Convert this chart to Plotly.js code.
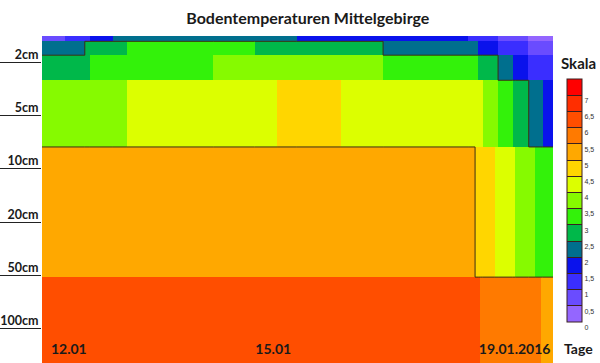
<!DOCTYPE html>
<html><head><meta charset="utf-8">
<script src="https://cdn.plot.ly/plotly-3.0.1.min.js"></script>
<style>html,body{margin:0;padding:0;background:#fff}#chart{width:600px;height:363px}</style>
</head><body><div id="chart"></div>
<script>
// depth axis (index scale, one step per labelled depth)
const depthLabels = ['2cm','5cm','10cm','20cm','50cm','100cm'];
const depthTicks = [1, 2, 3, 4, 5, 6];
// layer boundaries on the depth index scale (top -> bottom)
const layerEdges = [0.51, 0.61, 0.87, 1.34, 2.59, 5.03, 6.64];

// time axis in days of January
const dayStart = 12.0, dayEnd = 20.0;
const dayTickVals = [12.42, 15.62, 19.40];
const dayTickText = ['12.01', '15.01', '19.01.2016'];

// each layer: end day of every block and its temperature (°C)
const surfaceEnds  = [12.36, 12.75, 13.11, 15.99, 18.67, 19.14, 19.61, 20.00];
const surfaceTemps = [0.8, 1.3, 1.8, 2.2, 1.8, 1.3, 0.8, 0.3];
const cm2Ends  = [12.67, 13.33, 15.33, 17.34, 18.83, 19.14, 19.61, 20.00];
const cm2Temps = [2.2, 2.7, 3.2, 2.7, 2.2, 1.8, 1.3, 0.8];
const cm3Ends  = [12.75, 14.68, 17.34, 18.83, 19.14, 19.37, 19.61, 20.00];
const cm3Temps = [2.7, 3.2, 3.7, 3.2, 2.7, 2.2, 1.8, 1.3];
const cm5Ends  = [13.33, 15.68, 16.68, 18.90, 19.14, 19.37, 19.62, 19.84, 20.00];
const cm5Temps = [3.7, 4.2, 4.7, 4.2, 3.7, 3.2, 2.7, 2.2, 1.8];
const cm10to50Ends  = [18.78, 19.09, 19.41, 19.72, 20.00];
const cm10to50Temps = [5.2, 4.7, 4.2, 3.7, 3.2];
const cm100Ends  = [18.86, 19.81, 20.00];
const cm100Temps = [6.2, 5.7, 5.2];

// isotherms drawn as dark outlines
const isoLevels = [2.5, 5.0];

// colour scale (Skala): 15 bins of 0.5 °C from 0 to 7.5
const scaleTicks = [0,0.5,1,1.5,2,2.5,3,3.5,4,4.5,5,5.5,6,6.5,7];
const scaleMin = 0, scaleMax = 7.5;
const binColors = ['#9466ff','#6a4cff','#3a2eff','#0a12ec','#006f8e','#00b84a',
                   '#33f20a','#86fa00','#dcff00','#ffd600','#ffa800','#ff7a00',
                   '#ff4e00','#ff2e00','#ff0000'];

const layers = [
  [surfaceEnds, surfaceTemps], [cm2Ends, cm2Temps], [cm3Ends, cm3Temps],
  [cm5Ends, cm5Temps], [cm10to50Ends, cm10to50Temps], [cm100Ends, cm100Temps]
];

// union of block boundaries -> heatmap column edges
const edgeSet = new Set([dayStart]);
layers.forEach(l => l[0].forEach(e => edgeSet.add(e)));
const xEdges = Array.from(edgeSet).sort((a,b)=>a-b);
const z = layers.map(([ends, temps]) => {
  const row = [];
  for (let i = 0; i < xEdges.length - 1; i++) {
    const mid = (xEdges[i] + xEdges[i+1]) / 2;
    let k = ends.findIndex(e => mid < e);
    if (k < 0) k = ends.length - 1;
    row.push(temps[k]);
  }
  return row;
});

// isotherm outlines along block edges
const lx = [], ly = [];
const crosses = (a, b, t) => (a < t) !== (b < t);
isoLevels.forEach(t => {
  for (let r = 0; r < z.length; r++) {
    for (let c = 0; c < z[r].length; c++) {
      if (c + 1 < z[r].length && crosses(z[r][c], z[r][c+1], t)) {
        lx.push(xEdges[c+1], xEdges[c+1], null); ly.push(layerEdges[r], layerEdges[r+1], null);
      }
      if (r + 1 < z.length && crosses(z[r][c], z[r+1][c], t)) {
        lx.push(xEdges[c], xEdges[c+1], null); ly.push(layerEdges[r+1], layerEdges[r+1], null);
      }
    }
  }
});

const n = binColors.length;
const colorscale = [];
binColors.forEach((c, i) => { colorscale.push([i/n, c]); colorscale.push([(i+1)/n, c]); });

const heat = {
  type: 'heatmap', x: xEdges, y: layerEdges, z: z,
  zmin: scaleMin, zmax: scaleMax, colorscale: colorscale, zsmooth: false,
  hoverinfo: 'skip',
  colorbar: {
    thickness: 15, thicknessmode: 'pixels', len: 243, lenmode: 'pixels',
    x: 1.0274, xanchor: 'left', y: 0.8685, yanchor: 'top', xpad: 0, ypad: 0,
    outlinewidth: 1, outlinecolor: '#3a2020',
    tickmode: 'array', tickvals: scaleTicks,
    ticks: 'inside', ticklen: 15, tickwidth: 1, tickcolor: '#3a2020',
    ticklabelposition: 'outside bottom',
    tickfont: {size: 7, color: '#333', family: 'Arial, Liberation Sans, sans-serif'}
  }
};
const iso = {
  type: 'scatter', mode: 'lines', x: lx, y: ly, connectgaps: false,
  line: {color: '#3b2f14', width: 1}, hoverinfo: 'skip', showlegend: false
};

const layout = {
  width: 600, height: 363,
  margin: {l: 42, r: 47, t: 36, b: 0, pad: 0, autoexpand: false},
  paper_bgcolor: '#fff', plot_bgcolor: '#fff',
  separators: ', ', showlegend: false,
  font: {family: 'Lato, sans-serif', color: '#1a1a1a'},
  title: {text: 'Bodentemperaturen Mittelgebirge', font: {size: 16, weight: 700, color: '#1a1a1a'},
          x: 0.513, xref: 'container', xanchor: 'center', y: 0.95, yref: 'container', yanchor: 'middle'},
  xaxis: {range: [dayStart, dayEnd], tickmode: 'array', tickvals: dayTickVals, ticktext: dayTickText,
          ticks: '', ticklabelposition: 'inside', ticklabelstandoff: 3,
          tickfont: {size: 14, weight: 700, color: '#1a1a1a'},
          showgrid: false, zeroline: false, showline: false, fixedrange: true},
  yaxis: {range: [6.64, 0.51], tickmode: 'array', tickvals: depthTicks, ticktext: depthLabels,
          ticks: 'outside', ticklen: 42, tickwidth: 1, tickcolor: '#222',
          ticklabelstandoff: -42, ticklabelshift: 8,
          tickfont: {size: 12.5, weight: 700, color: '#1a1a1a'},
          showgrid: false, zeroline: false, showline: false, fixedrange: true},
  annotations: [
    {text: 'Skala', xref: 'paper', yref: 'paper', x: 1.049, y: 0.917, xanchor: 'center', yanchor: 'middle',
     showarrow: false, font: {size: 15, weight: 700, color: '#1a1a1a'}},
    {text: 'Tage', xref: 'paper', yref: 'paper', x: 1.049, y: 0.043, xanchor: 'center', yanchor: 'middle',
     showarrow: false, font: {size: 14, weight: 700, color: '#1a1a1a'}}
  ]
};

Plotly.newPlot('chart', [heat, iso], layout, {displayModeBar: false, staticPlot: true});
</script></body></html>
